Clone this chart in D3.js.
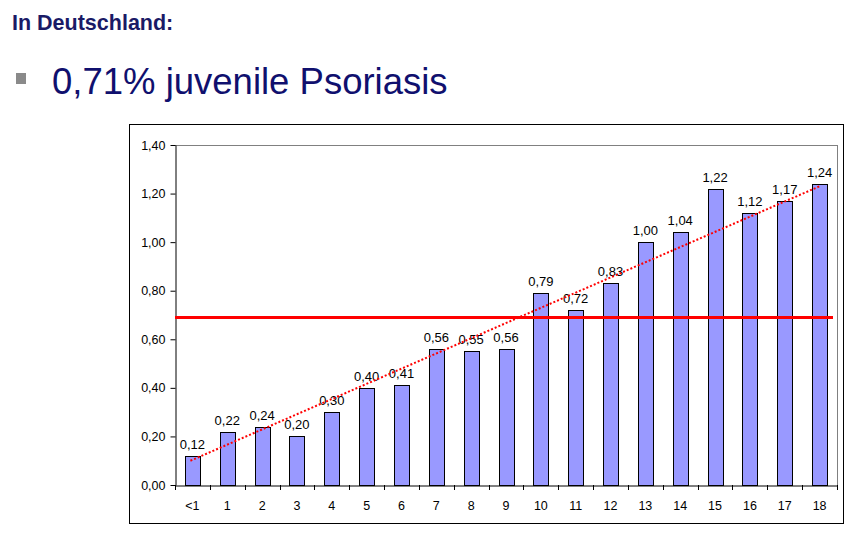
<!DOCTYPE html>
<html>
<head>
<meta charset="utf-8">
<script src="https://cdn.jsdelivr.net/npm/d3@7"></script>
<style>
  body { margin: 0; background: #fff; font-family: "Liberation Sans", Arial, sans-serif; }
  svg text { font-family: "Liberation Sans", Arial, sans-serif; }
</style>
</head>
<body>
<svg id="chart" width="866" height="536"></svg>
<script>
// Daten
const kategorien = ["<1", "1", "2", "3", "4", "5", "6", "7", "8", "9", "10", "11", "12", "13", "14", "15", "16", "17", "18"];
const werte = [0.12, 0.22, 0.24, 0.20, 0.30, 0.40, 0.41, 0.56, 0.55, 0.56, 0.79, 0.72, 0.83, 1.00, 1.04, 1.22, 1.12, 1.17, 1.24];
const yTicks = [0, 0.2, 0.4, 0.6, 0.8, 1.0, 1.2, 1.4];
const mittelwert = 0.69;          // rote Linie
const trendStart = 0.10;          // gepunktete Trendlinie bei "<1"
const trendEnde = 1.23;           // gepunktete Trendlinie bei "18"

const svg = d3.select("#chart");
const fmt = v => d3.format(".2f")(v).replace(".", ",");

// Überschriften
svg.append("text")
  .attr("x", 12).attr("y", 30)
  .attr("font-size", 21.5).attr("font-weight", "bold")
  .attr("fill", "#1a1a66")
  .text("In Deutschland:");

svg.append("rect")
  .attr("x", 16).attr("y", 73).attr("width", 10).attr("height", 11)
  .attr("fill", "#8a8a8a");

svg.append("text")
  .attr("x", 52).attr("y", 94)
  .attr("font-size", 36.5)
  .attr("fill", "#10106e")
  .text("0,71% juvenile Psoriasis");

// Rahmen
svg.append("rect")
  .attr("x", 129.5).attr("y", 124.5).attr("width", 714).attr("height", 399)
  .attr("fill", "none").attr("stroke", "#000").attr("stroke-width", 1);

const margin = {top: 145, left: 175, right: 837, bottom: 485};

const x = d3.scaleBand()
  .domain(kategorien)
  .range([margin.left, margin.right])
  .paddingInner(0.57).paddingOuter(0.285);

const xb = d3.scaleBand().domain(kategorien).range([margin.left, margin.right]);

const y = d3.scaleLinear()
  .domain([0, 1.4])
  .range([margin.bottom, margin.top]);

// obere Gitterlinie und rechter Rand
svg.append("line")
  .attr("x1", margin.left).attr("x2", margin.right)
  .attr("y1", y(1.4) + 0.5).attr("y2", y(1.4) + 0.5)
  .attr("stroke", "#808080");
svg.append("line")
  .attr("x1", margin.right + 0.5).attr("x2", margin.right + 0.5)
  .attr("y1", y(1.4)).attr("y2", y(0))
  .attr("stroke", "#808080");

// Balken
svg.selectAll(".bar")
  .data(werte)
  .enter()
  .append("rect")
  .attr("class", "bar")
  .attr("x", (d, i) => Math.round(x(kategorien[i])) + 0.5)
  .attr("y", d => Math.round(y(d)) + 0.5)
  .attr("width", Math.round(x.bandwidth()))
  .attr("height", d => Math.round(y(0)) - Math.round(y(d)))
  .attr("fill", "#9999ff")
  .attr("stroke", "#000")
  .attr("stroke-width", 1);

// Beschriftungen
svg.selectAll(".label")
  .data(werte)
  .enter()
  .append("text")
  .attr("class", "label")
  .attr("x", (d, i) => xb(kategorien[i]) + xb.bandwidth() / 2)
  .attr("y", d => y(d) - 7)
  .attr("text-anchor", "middle")
  .attr("font-size", 13)
  .attr("fill", "#000")
  .text(d => fmt(d));

// Achsen
const yAxis = svg.append("g")
  .attr("transform", `translate(${margin.left + 0.5},0)`)
  .call(d3.axisLeft(y).tickValues(yTicks).tickFormat(fmt).tickSize(5).tickSizeOuter(0));
yAxis.select(".domain").attr("stroke", "#000");
yAxis.selectAll("text").attr("font-size", 12.5).attr("fill", "#000").attr("dx", "-2");

const xAxis = svg.append("g")
  .attr("transform", `translate(0,${margin.bottom + 0.5})`)
  .call(d3.axisBottom(xb).tickSize(0).tickSizeOuter(0));
xAxis.select(".domain").attr("stroke", "#000");
xAxis.selectAll("text").attr("font-size", 12.5).attr("fill", "#000").attr("dy", "1.75em");

// Teilstriche an den Kategoriegrenzen
svg.selectAll(".xtick")
  .data(kategorien.concat(["_end"]))
  .enter()
  .append("line")
  .attr("x1", (d, i) => Math.round(margin.left + i * xb.bandwidth()) + 0.5)
  .attr("x2", (d, i) => Math.round(margin.left + i * xb.bandwidth()) + 0.5)
  .attr("y1", margin.bottom)
  .attr("y2", margin.bottom + 5)
  .attr("stroke", "#000");

// Mittelwertlinie
svg.append("line")
  .attr("x1", margin.left).attr("x2", margin.right - 4)
  .attr("y1", y(mittelwert)).attr("y2", y(mittelwert))
  .attr("stroke", "#ff0000")
  .attr("stroke-width", 3);

// Trendlinie
svg.append("line")
  .attr("x1", xb(kategorien[0]) + xb.bandwidth() / 2 - 2)
  .attr("y1", y(trendStart))
  .attr("x2", xb(kategorien[kategorien.length - 1]) + xb.bandwidth() / 2)
  .attr("y2", y(trendEnde))
  .attr("stroke", "#ff0000")
  .attr("stroke-width", 2)
  .attr("stroke-dasharray", "2,2");
</script>
</body>
</html>
